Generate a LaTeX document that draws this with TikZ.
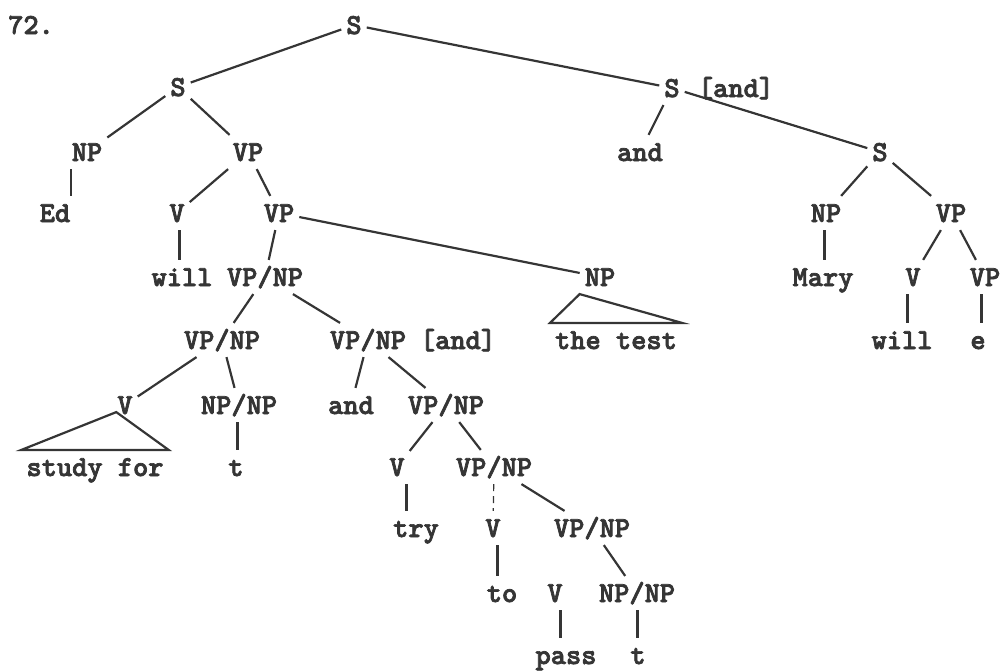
\documentclass[tikz,border=0pt]{standalone}
\usepackage{fontspec}
\usetikzlibrary{calc}
\newfontfamily\treefont{lmmonolt10-bold}[Extension=.otf, FakeBold=2.5]
\definecolor{ink}{HTML}{353535}

% vertical stroke between a category and its word
\newcommand\stemline[2]{%
  \path ($(#1.south)!.5!(#2.north)$) coordinate (mid);
  \draw (#1.south -| mid) -- (#2.north -| mid);}

\begin{document}
\begin{tikzpicture}[x=1pt, y=-1pt, color=ink, line width=2.2pt,
  every node/.style = {font=\treefont\fontsize{29}{32}\selectfont\bfseries,
    inner xsep=4pt, inner ysep=7pt, text height=18pt, text depth=0pt},
  tag/.style = {inner sep=0pt}
  ]
  \useasboundingbox (0,0) rectangle (1000,670);
  \node[tag] (num) at (31,25) {72.};
  % top of the tree
  \node (s0) at (354,25) {S};
  \node (s1) at (178,87) {S};
  \node (s3) at (672,88) {S};
  \node[tag] (and3) at (736,88) {[and]};
  \node (np1) at (87,152) {NP};
  \node (vp1) at (248,152) {VP};
  \node (and1) at (640,152) {and};
  \node (s2) at (880,152) {S};
  \node (ed) at (55,213) {Ed};
  \node (v1) at (177,213) {V};
  \node (vp2) at (279,213) {VP};
  \node (np4) at (826,213) {NP};
  \node (vp4) at (951,213) {VP};
  \node (will1) at (182,277) {will};
  \node (vpnp1) at (265,277) {VP/NP};
  \node (np2) at (600,277) {NP};
  \node (mary) at (823,277) {Mary};
  \node (v4) at (913,277) {V};
  \node (vp5) at (985,277) {VP};
  \node (vpnp2) at (222,340) {VP/NP};
  \node (vpnp3) at (368,340) {VP/NP};
  \node[tag] (and4) at (458,340) {[and]};
  \node (test) at (616,340) {the test};
  \node (will2) at (902,340) {will};
  \node (e) at (978,340) {e};
  % lower part
  \node (v2) at (125,405) {V};
  \node (npnp1) at (239,405) {NP/NP};
  \node (and2) at (351,405) {and};
  \node (vpnp4) at (446,405) {VP/NP};
  \node (study) at (95,467) {study for};
  \node (t1) at (236,467) {t};
  \node (v3) at (397,467) {V};
  \node (vpnp5) at (494,467) {VP/NP};
  \node (try) at (416,528) {try};
  \node (v5) at (493,528) {V};
  \node (vpnp6) at (592,528) {VP/NP};
  \node (to) at (502,593) {to};
  \node (v6) at (555,593) {V};
  \node (npnp2) at (637,593) {NP/NP};
  \node (pass) at (566,655) {pass};
  \node (t2) at (638,655) {t};

  \draw (s0) -- (s1);
  \draw (s0) -- (s3);
  \draw (s1) -- (np1);
  \draw (s1) -- (vp1);
  \draw (s3) -- (and1);
  \draw (s3) -- (s2);
  \draw (vp1) -- (v1);
  \draw (vp1) -- (vp2);
  \draw (s2) -- (np4);
  \draw (s2) -- (vp4);
  \draw (vp2) -- (vpnp1);
  \draw (vp2) -- (np2);
  \draw (vp4) -- (v4);
  \draw (vp4) -- (vp5);
  \draw (vpnp1) -- (vpnp2);
  \draw (vpnp1) -- (vpnp3);
  \draw (vpnp2) -- (v2);
  \draw (vpnp2) -- (npnp1);
  \draw (vpnp3) -- (and2);
  \draw (vpnp3) -- (vpnp4);
  \draw (vpnp4) -- (v3);
  \draw (vpnp4) -- (vpnp5);
  \draw[line width=1.2pt, dash pattern=on 7pt off 5pt] (vpnp5) -- (v5);
  \draw (vpnp5) -- (vpnp6);
  \draw (vpnp6) -- (npnp2);
  \stemline{np1}{ed}
  \stemline{v1}{will1}
  \stemline{np4}{mary}
  \stemline{v4}{will2}
  \stemline{vp5}{e}
  \stemline{npnp1}{t1}
  \stemline{v3}{try}
  \stemline{v5}{to}
  \stemline{v6}{pass}
  \stemline{npnp2}{t2}
  % triangles
  \draw (np2.south west) -- (test.north west) -- (test.north east) -- cycle;
  \draw ($(v2.south west)+(4,-10)$) -- (study.north west) -- (study.north east) -- cycle;
\end{tikzpicture}
\end{document}
